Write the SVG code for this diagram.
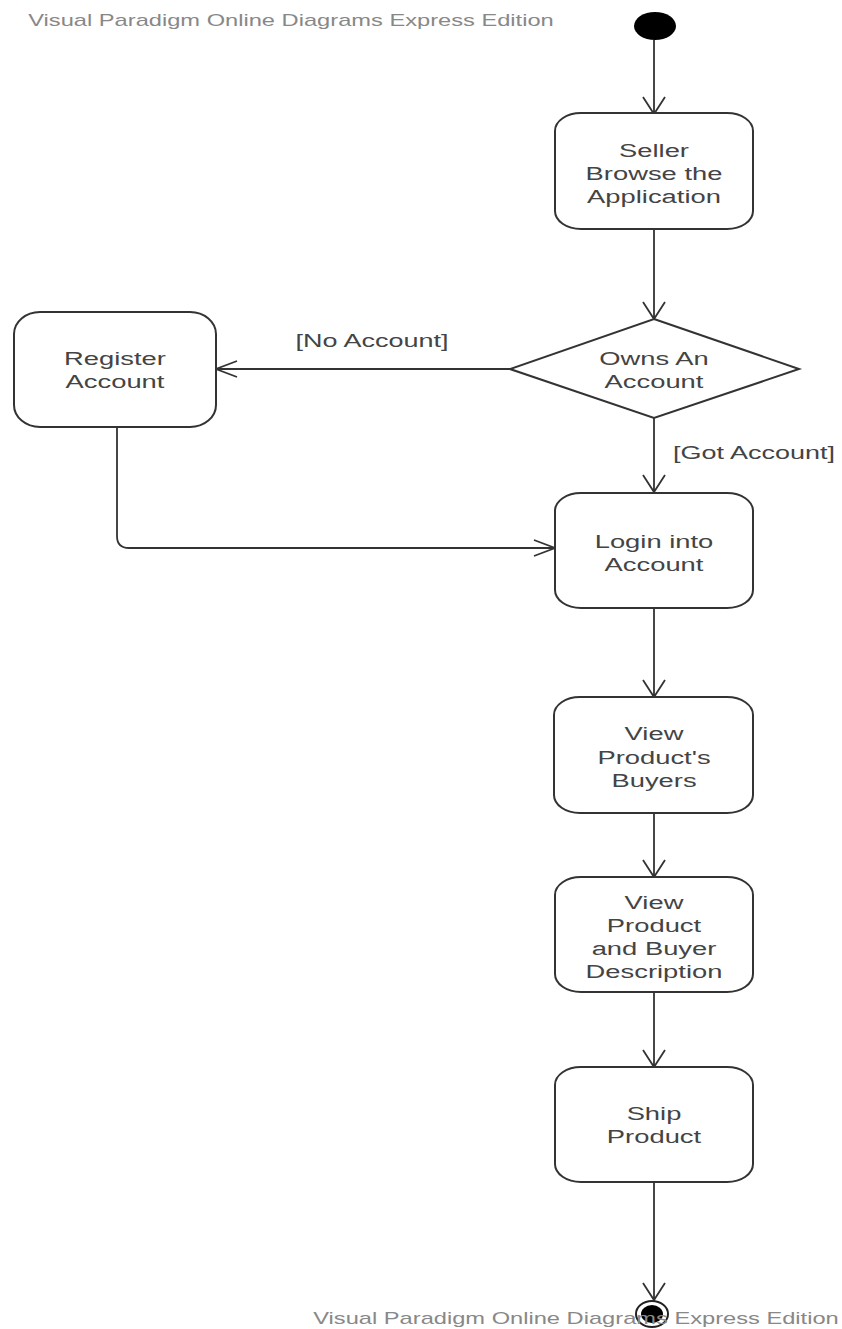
<svg xmlns="http://www.w3.org/2000/svg" width="842" height="1329" viewBox="0 0 842 1329">
<style>
.box{fill:#fff;stroke:#333;stroke-width:2}
.ln{fill:none;stroke:#333;stroke-width:1.8}
.t{font-family:"Liberation Sans",Arial,sans-serif;font-size:19px;fill:#444;text-anchor:middle}
.wm{font-family:"Liberation Sans",Arial,sans-serif;font-size:16px;fill:#888;text-anchor:middle}
</style>
<rect width="842" height="1329" fill="#fff"/>
<g id="watermark-top" transform="translate(291 0) scale(1.48 1)"><text class="wm" x="0" y="26">Visual Paradigm Online Diagrams Express Edition</text></g>
<g id="connectors">
<path class="ln" d="M654 40 V114 M643 97 L654 114 L665 97"/>
<path class="ln" d="M654 229 V319 M643 302 L654 319 L665 302"/>
<path class="ln" d="M510 369 H216 M237 361 L216 369 L237 377"/>
<path class="ln" d="M654 418 V492 M643 475 L654 492 L665 475"/>
<path class="ln" d="M117 427 V536 Q117 548 129 548 H555 M534 540 L555 548 L534 556"/>
<path class="ln" d="M654 608 V697 M643 680 L654 697 L665 680"/>
<path class="ln" d="M654 813 V877 M643 860 L654 877 L665 860"/>
<path class="ln" d="M654 992 V1067 M643 1050 L654 1067 L665 1050"/>
<path class="ln" d="M654 1182 V1300 M643 1283 L654 1300 L665 1283"/>
<g transform="translate(372 0) scale(1.42 1)"><text class="t" x="0" y="347">[No Account]</text></g>
<g transform="translate(754 0) scale(1.42 1)"><text class="t" x="0" y="459">[Got Account]</text></g>
</g>
<g id="start"><ellipse cx="655" cy="26" rx="21" ry="14" fill="#000"/></g>
<g id="browse">
<rect class="box" x="555" y="113" width="198" height="116" rx="26" ry="18"/>
<g transform="translate(654 0) scale(1.44 1)"><text class="t" x="0" y="157">Seller</text><text class="t" x="0" y="180">Browse the</text><text class="t" x="0" y="203">Application</text></g>
</g>
<g id="decision">
<path class="box" d="M654 319 L799 369 L654 418 L510 369 Z"/>
<g transform="translate(654 0) scale(1.44 1)"><text class="t" x="0" y="365">Owns An</text><text class="t" x="0" y="388">Account</text></g>
</g>
<g id="register">
<rect class="box" x="14" y="312" width="202" height="115" rx="26" ry="22"/>
<g transform="translate(115 0) scale(1.44 1)"><text class="t" x="0" y="365">Register</text><text class="t" x="0" y="388">Account</text></g>
</g>
<g id="login">
<rect class="box" x="555" y="493" width="198" height="115" rx="26" ry="18"/>
<g transform="translate(654 0) scale(1.44 1)"><text class="t" x="0" y="548">Login into</text><text class="t" x="0" y="571">Account</text></g>
</g>
<g id="buyers">
<rect class="box" x="554" y="697" width="199" height="116" rx="26" ry="18"/>
<g transform="translate(654 0) scale(1.44 1)"><text class="t" x="0" y="740">View</text><text class="t" x="0" y="764">Product's</text><text class="t" x="0" y="787">Buyers</text></g>
</g>
<g id="description">
<rect class="box" x="555" y="877" width="198" height="115" rx="26" ry="18"/>
<g transform="translate(654 0) scale(1.44 1)"><text class="t" x="0" y="909">View</text><text class="t" x="0" y="932">Product</text><text class="t" x="0" y="955">and Buyer</text><text class="t" x="0" y="978">Description</text></g>
</g>
<g id="ship">
<rect class="box" x="555" y="1067" width="198" height="115" rx="26" ry="18"/>
<g transform="translate(654 0) scale(1.44 1)"><text class="t" x="0" y="1120">Ship</text><text class="t" x="0" y="1143">Product</text></g>
</g>
<g id="end">
<ellipse cx="652" cy="1314" rx="16" ry="13" fill="#fff" stroke="#222" stroke-width="2"/>
<ellipse cx="652" cy="1314" rx="11" ry="9" fill="#000"/>
</g>
<g id="watermark-bottom" transform="translate(576 0) scale(1.48 1)"><text class="wm" x="0" y="1324">Visual Paradigm Online Diagrams Express Edition</text></g>
</svg>
